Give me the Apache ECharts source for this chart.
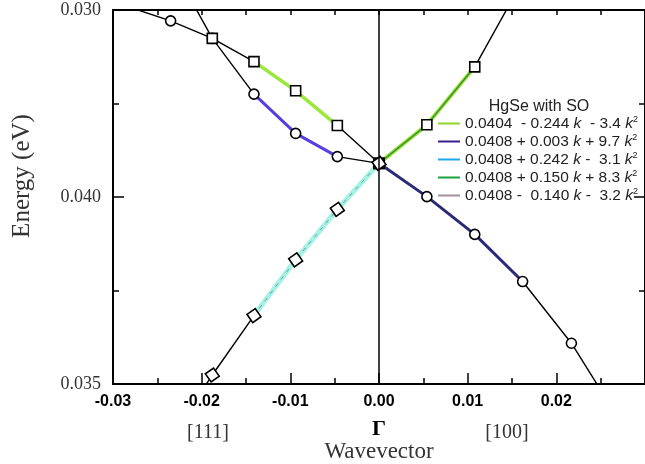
<!DOCTYPE html>
<html><head><meta charset="utf-8">
<script src="https://cdn.jsdelivr.net/npm/echarts@6/dist/echarts.min.js"></script>
<style>html,body{margin:0;padding:0;background:#fff}#c{width:645px;height:464px}</style>
</head><body><div id="c"></div>
<script>
// wavevector samples: [111] on the negative side, [100] on the positive side
const kLeft = [-0.0282, -0.0235, -0.0188, -0.0141, -0.0094, -0.0047, 0];
const kRight = [0, 0.0054, 0.0108, 0.0162, 0.0217, 0.0270];

// band energies (eV) at those wavevectors
const bandCircleL  = [0.04508, 0.04471, 0.04424, 0.04275, 0.04170, 0.04108, 0.04090];
const bandSquareL  = [null, 0.04626, 0.04424, 0.04362, 0.04284, 0.04191, 0.04090];
const bandDiamondL = [null, 0.03356, 0.03524, 0.03683, 0.03832, 0.03967, 0.04090];
const bandSquareR  = [0.04090, 0.04193, 0.04348, 0.04578];
const bandCircleR  = [0.04090, 0.04001, 0.03900, 0.03774, 0.03609, 0.03408];

// quadratic fit coefficients  E = c + b k + a k^2 (spacing as typeset in the key)
const fitC = ['0.0404 ', '0.0408', '0.0408', '0.0408', '0.0408'];
const fitB = ['- 0.244', '+ 0.003', '+ 0.242', '+ 0.150', '-  0.140'];
const fitA = [' - 3.4', '+ 9.7', '-  3.1', '+ 8.3', '-  3.2'];
const fitLegendColors = ['#8fd42b', '#3b1d8f', '#1ea8e8', '#1aa33a', '#a090a0'];

// axis tick labels
const yTickLabels = ['0.035', '0.040', '0.030'];
const xTickDigits = 2;

const pairs = (ks, es) => ks.map((k, i) => [k, es[i]]).filter(p => p[1] != null);
const part = (ks, es, from, to) => pairs(ks.slice(from, to + 1), es.slice(from, to + 1));
const fitNames = fitC.map((c, i) => c + ' ' + fitB[i] + ' k ' + fitA[i] + ' k²');

const black = '#000';
const bandLine = (data) => ({
  type: 'line', data, showSymbol: false, silent: true, z: 2,
  lineStyle: { color: black, width: 1.4 }, itemStyle: { color: black }
});
const fitLine = (name, data, color, width, extra) => Object.assign({
  type: 'line', name, data, showSymbol: false, silent: true, z: 3,
  lineStyle: { color, width }, itemStyle: { color }
}, extra || {});
const markers = (data, symbol, rotate) => ({
  type: 'scatter', data, symbol, symbolSize: 10, symbolRotate: rotate || 0, silent: true, z: 4,
  itemStyle: { color: '#fff', opacity: 1, borderColor: black, borderWidth: 1.6 }
});

const frameLine = { onZero: false, lineStyle: { color: black, width: 2 } };
const tickStyle = { color: black, width: 1.5 };

const chart = echarts.init(document.getElementById('c'), null, { renderer: 'canvas' });
chart.setOption({
  animation: false,
  backgroundColor: '#fff',
  grid: { left: 113, right: -3, top: 10, bottom: 80 },
  xAxis: [{
    type: 'value', min: -0.03, max: 0.03, interval: 0.01, position: 'bottom',
    axisLine: frameLine,
    axisTick: { inside: true, length: 11, lineStyle: tickStyle },
    minorTick: { show: true, splitNumber: 2, length: 6, lineStyle: tickStyle },
    splitLine: { show: false },
    axisLabel: {
      margin: 10, color: black, fontSize: 16, fontWeight: 'bold', fontFamily: 'Liberation Sans',
      showMaxLabel: false,
      formatter: v => (Math.abs(v) < 1e-9 ? 0 : v).toFixed(xTickDigits)
    }
  }, {
    type: 'value', min: -0.03, max: 0.03, interval: 0.005, position: 'top',
    axisLine: frameLine,
    axisTick: { inside: true, length: 5, lineStyle: tickStyle },
    splitLine: { show: false }, axisLabel: { show: false }
  }],
  yAxis: [{
    type: 'value', min: 0.035, max: 0.045, interval: 0.005, position: 'left',
    axisLine: frameLine,
    axisTick: { inside: true, length: 11, lineStyle: tickStyle },
    minorTick: { show: true, splitNumber: 2, length: 6, lineStyle: tickStyle },
    splitLine: { show: false },
    axisLabel: {
      margin: 12, color: '#333', fontSize: 18, fontFamily: 'Liberation Serif',
      formatter: v => yTickLabels[Math.round((v - 0.035) / 0.005)]
    }
  }, {
    type: 'value', min: 0.035, max: 0.045, interval: 0.005, position: 'right',
    axisLine: frameLine,
    axisTick: { inside: true, length: 11, lineStyle: tickStyle },
    minorTick: { show: true, splitNumber: 2, length: 6, lineStyle: tickStyle },
    splitLine: { show: false }, axisLabel: { show: false }
  }],
  legend: {
    orient: 'vertical', left: 438, top: 115, padding: 0, itemWidth: 22, itemHeight: 2, itemGap: 1,
    icon: 'rect', selectedMode: false,
    data: fitNames.map((n, i) => ({ name: n, itemStyle: { color: fitLegendColors[i] } })),
    formatter: n => n.replace(' k ', ' {i|k} ').replace(' k²', ' {i|k}{s|2}'),
    textStyle: {
      fontSize: 15.5, fontFamily: 'Liberation Sans', color: '#222', lineHeight: 17,
      rich: {
        i: { fontSize: 15.5, fontStyle: 'italic', fontFamily: 'Liberation Sans', color: '#222', lineHeight: 17 },
        s: { fontSize: 9, fontFamily: 'Liberation Sans', color: '#222', verticalAlign: 'top', lineHeight: 17, padding: [0, 0, 6, 0] }
      }
    }
  },
  graphic: [
    { type: 'text', x: 539, y: 107, style: { text: 'HgSe with SO', font: '16px "Liberation Sans"', fill: '#222', align: 'center', verticalAlign: 'middle' } },
    { type: 'text', x: 22, y: 176, rotation: Math.PI / 2, style: { text: 'Energy (eV)', font: '25px "Liberation Serif"', fill: '#333', align: 'center', verticalAlign: 'middle' } },
    { type: 'text', x: 208, y: 433, style: { text: '[111]', font: '20px "Liberation Serif"', fill: '#333', align: 'center', verticalAlign: 'middle' } },
    { type: 'text', x: 379, y: 429, style: { text: 'Γ', font: 'bold 22px "Liberation Serif"', fill: '#000', align: 'center', verticalAlign: 'middle' } },
    { type: 'text', x: 507, y: 433, style: { text: '[100]', font: '20px "Liberation Serif"', fill: '#333', align: 'center', verticalAlign: 'middle' } },
    { type: 'text', x: 379, y: 452, style: { text: 'Wavevector', font: '23px "Liberation Serif"', fill: '#333', align: 'center', verticalAlign: 'middle' } }
  ],
  series: [
    Object.assign(bandLine(pairs(kLeft, bandCircleL)), {
      markLine: {
        silent: true, symbol: 'none', label: { show: false },
        lineStyle: { color: black, width: 1.5, type: 'solid' },
        data: [{ xAxis: 0 }]
      }
    }),
    bandLine(pairs(kLeft, bandSquareL)),
    bandLine(pairs(kLeft, bandDiamondL)),
    bandLine(pairs(kRight, bandSquareR)),
    bandLine(pairs(kRight, bandCircleR)),

    fitLine(fitNames[0], part(kLeft, bandSquareL, 3, 5), '#99e83a', 3.5),
    fitLine(fitNames[1], part(kLeft, bandCircleL, 3, 5), '#5a3de0', 3),
    fitLine(fitNames[2], part(kLeft, bandDiamondL, 3, 6), '#a6f2e2', 5),
    fitLine('', part(kLeft, bandDiamondL, 3, 6), '#5a9fb0', 1, { lineStyle: { color: '#5a9fb0', width: 1, type: [4, 5] } }),
    fitLine('', part(kRight, bandSquareR, 0, 2), '#a8e040', 4),
    fitLine(fitNames[3], part(kRight, bandSquareR, 0, 2), '#2e9a2e', 1.5),
    fitLine(fitNames[4], part(kRight, bandCircleR, 0, 3), '#2a2a78', 3),

    markers(pairs(kLeft, bandCircleL).concat(pairs(kRight, bandCircleR)), 'circle'),
    markers(pairs(kLeft, bandSquareL).concat(pairs(kRight, bandSquareR)), 'rect'),
    markers(pairs(kLeft, bandDiamondL), 'rect', 35)
  ]
});
</script></body></html>
